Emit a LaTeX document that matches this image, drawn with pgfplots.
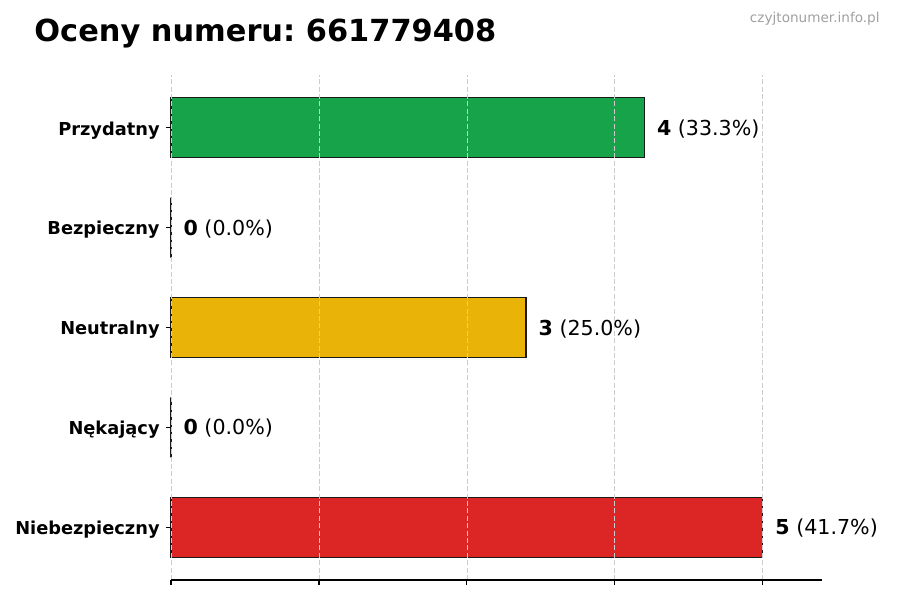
\documentclass[border=0pt]{standalone}
\usepackage{pgfplots}
\pgfplotsset{compat=1.18}
\usepackage{fontspec}
\setmainfont{DejaVu Sans}
\frenchspacing
\definecolor{cgreen}{HTML}{16A34A}
\definecolor{cyellow}{HTML}{EAB308}
\definecolor{cred}{HTML}{DC2626}
\definecolor{cedge}{HTML}{1A1A1A}
\definecolor{cgrid}{HTML}{CCCCCC}
\definecolor{cwm}{HTML}{A0A0A0}
\begin{document}
\begin{tikzpicture}
\useasboundingbox (0,0) rectangle (450pt,300pt);
\begin{axis}[
 at={(85.5pt,10pt)}, anchor=south west,
 scale only axis, width=325.5pt, height=252.5pt,
 xmin=0, xmax=5.5, ymin=-0.53, ymax=4.53,
 xbar, bar width=30pt, bar shift=0pt,
 axis lines*=left, y axis line style={draw=none},
 axis line style={line width=0.55pt, black},
 xtick={0,1.25,2.5,3.75,5}, xticklabels={},
 ytick={0,1,2,3,4},
 yticklabels={Niebezpieczny,Nękający,Neutralny,Bezpieczny,Przydatny},
 yticklabel style={font=\bfseries\fontsize{8.9}{10}\selectfont, inner sep=0pt, xshift=-3pt, yshift=-1.2pt},
 tick align=outside, major tick length=2.5pt,
 tick style={line width=0.55pt, black},
 xmajorgrids, grid style={cgrid, line width=0.4pt, dash pattern=on 2.5pt off 1.2pt},
 axis on top,
 point meta=explicit symbolic,
 nodes near coords,
 nodes near coords style={anchor=west, inner sep=0pt, xshift=6pt, yshift=-0.6pt, font=\fontsize{10.3}{12}\selectfont, black},
 every axis plot/.append style={draw=cedge, line width=0.6pt},
 clip=false,
]
\addplot[fill=cred] coordinates {(5,0) [\textbf{5} (41.7\%)]};
\addplot[fill=gray] coordinates {(0,1) [\textbf{0} (0.0\%)]};
\addplot[fill=cyellow] coordinates {(3,2) [\textbf{3} (25.0\%)]};
\addplot[fill=gray] coordinates {(0,3) [\textbf{0} (0.0\%)]};
\addplot[fill=cgreen] coordinates {(4,4) [\textbf{4} (33.3\%)]};
\end{axis}
\node[anchor=base west, inner sep=0pt, font=\bfseries\fontsize{15.2}{18}\selectfont] at (17pt,279.2pt) {Oceny numeru: 661779408};
\node[anchor=base east, inner sep=0pt, text=cwm, font=\fontsize{6.8}{8}\selectfont] at (440pt,288.5pt) {czyjtonumer.info.pl};
\end{tikzpicture}
\end{document}
